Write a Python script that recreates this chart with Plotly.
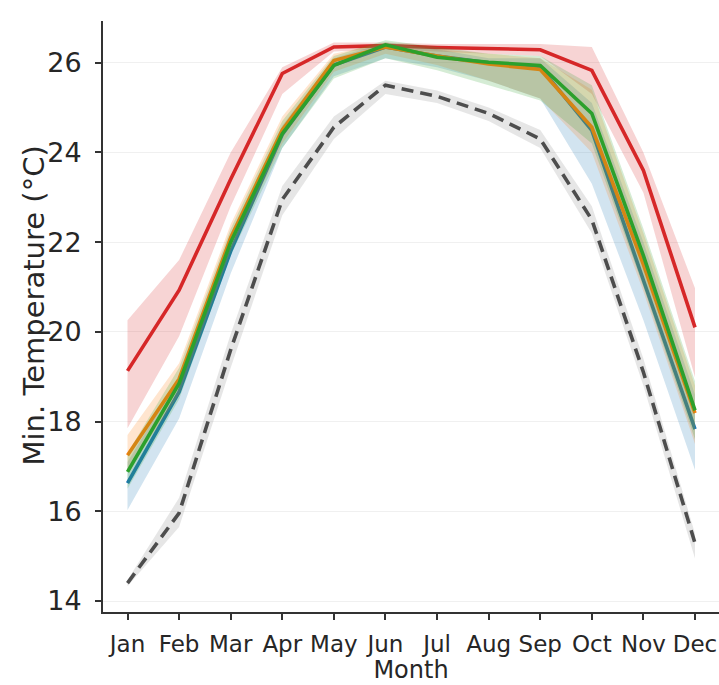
import plotly.graph_objects as go

months = ["Jan", "Feb", "Mar", "Apr", "May", "Jun", "Jul", "Aug", "Sep", "Oct", "Nov", "Dec"]

gray_mean = [14.40, 15.96, 19.6, 22.95, 24.56, 25.5, 25.25, 24.87, 24.3, 22.5, 19.1, 15.29]
gray_lo = [14.33, 15.65, 19.2, 22.6, 24.3, 25.3, 25.1, 24.7, 24.1, 22.2, 18.8, 14.95]
gray_hi = [14.47, 16.3, 19.95, 23.25, 24.8, 25.6, 25.38, 25.0, 24.5, 22.8, 19.4, 15.5]

red_mean = [19.13, 20.93, 23.4, 25.76, 26.35, 26.38, 26.34, 26.31, 26.29, 25.83, 23.6, 20.1]
red_lo = [17.85, 19.9, 22.8, 25.3, 26.25, 26.3, 26.25, 26.2, 26.15, 25.3, 23.1, 18.99]
red_hi = [20.26, 21.6, 24.0, 25.9, 26.45, 26.45, 26.42, 26.42, 26.42, 26.35, 24.0, 20.97]

blue_mean = [16.63, 18.66, 21.8, 24.4, 25.95, 26.35, 26.15, 26.0, 25.9, 24.49, 21.15, 17.83]
blue_lo = [16.03, 18.07, 21.3, 24.1, 25.7, 26.1, 25.9, 25.6, 25.2, 23.3, 20.26, 16.92]
blue_hi = [17.1, 19.0, 22.2, 24.6, 26.1, 26.45, 26.3, 26.1, 26.1, 25.1, 22.0, 18.6]

orange_mean = [17.25, 18.95, 22.1, 24.5, 26.05, 26.35, 26.15, 25.97, 25.85, 24.56, 21.5, 18.19]
orange_lo = [16.9, 18.6, 21.8, 24.2, 25.8, 26.2, 25.95, 25.6, 25.2, 24.0, 20.9, 17.5]
orange_hi = [17.7, 19.3, 22.4, 24.8, 26.2, 26.45, 26.3, 26.2, 26.1, 25.4, 22.2, 18.8]

green_mean = [16.88, 18.85, 22.0, 24.42, 25.94, 26.4, 26.12, 26.01, 25.94, 24.87, 21.7, 18.25]
green_lo = [16.5, 18.5, 21.7, 24.1, 25.65, 26.1, 25.83, 25.5, 25.16, 24.2, 21.0, 17.6]
green_hi = [17.3, 19.2, 22.3, 24.7, 26.15, 26.5, 26.35, 26.2, 26.15, 25.5, 22.3, 18.9]

series = [
    ("gray", gray_mean, gray_lo, gray_hi, "#4d4d4d", "rgba(140,140,140,0.22)", "12px,7px"),
    ("red", red_mean, red_lo, red_hi, "#d62728", "rgba(214,39,40,0.2)", None),
    ("blue", blue_mean, blue_lo, blue_hi, "#1f77b4", "rgba(31,119,180,0.2)", None),
    ("orange", orange_mean, orange_lo, orange_hi, "#ff7f0e", "rgba(255,127,14,0.2)", None),
    ("green", green_mean, green_lo, green_hi, "#2ca02c", "rgba(44,160,44,0.2)", None),
]

xs = list(range(len(months)))
fig = go.Figure()
for name, m, lo, hi, col, fcol, dash in series:
    fig.add_trace(go.Scatter(x=xs + xs[::-1], y=hi + lo[::-1], fill="toself",
                             fillcolor=fcol, line=dict(width=0), mode="lines",
                             hoverinfo="skip", showlegend=False))
    fig.add_trace(go.Scatter(x=xs, y=m, mode="lines", name=name,
                             line=dict(color=col, width=3.6, dash=dash),
                             showlegend=False))

font_col = "#262626"
fig.update_layout(
    width=719, height=685,
    margin=dict(l=103, r=0, t=21, b=73),
    plot_bgcolor="white", paper_bgcolor="white",
    font=dict(family="DejaVu Sans", size=23, color=font_col),
    showlegend=False,
    annotations=[dict(text="Min. Temperature (°C)", xref="paper", yref="paper",
                      x=0, y=0.5, xshift=-70, yshift=11, xanchor="center",
                      yanchor="middle", textangle=-90, showarrow=False,
                      font=dict(size=29, color=font_col))],
)
fig.update_xaxes(
    range=[-0.475, 11.465], tickmode="array", tickvals=xs, ticktext=months,
    showline=True, linecolor="#333333", linewidth=1.8, ticks="outside",
    ticklen=6, tickwidth=1.5, tickcolor="#333333", showgrid=False, zeroline=False,
    title=dict(text="Month", font=dict(size=24), standoff=2),
    tickfont=dict(size=23), ticklabelstandoff=4,
)
fig.update_yaxes(
    range=[13.755, 26.93], tickvals=[14, 16, 18, 20, 22, 24, 26],
    showline=True, linecolor="#333333", linewidth=1.8, ticks="outside",
    ticklen=6, tickwidth=1.5, tickcolor="#333333",
    showgrid=True, gridcolor="#f0f0f0", gridwidth=1, zeroline=False,
    tickfont=dict(size=27), ticklabelstandoff=8,
)
fig.write_html("out.html")
